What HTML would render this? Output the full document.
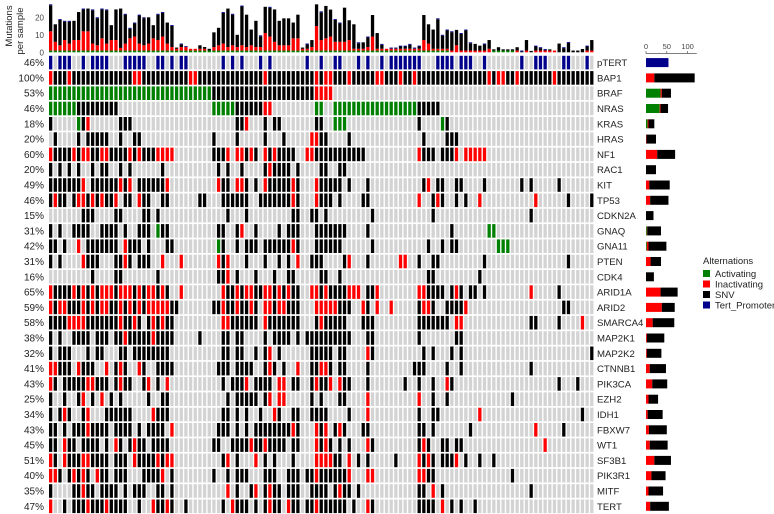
<!DOCTYPE html>
<html><head><meta charset="utf-8"><style>
html,body{margin:0;padding:0;background:#fff;width:774px;height:514px;overflow:hidden}
svg{display:block;font-family:"Liberation Sans",Arial,sans-serif}
</style></head><body>
<svg id="chart" width="774" height="514" viewBox="0 0 774 514" xmlns="http://www.w3.org/2000/svg">
<g>
<text transform="translate(12,26) rotate(-90)" font-size="9.5" text-anchor="middle" fill="#222">Mutations</text>
<text transform="translate(23,31) rotate(-90)" font-size="9.5" text-anchor="middle" fill="#222">per sample</text>
</g>
<g id="topAxis"></g>
<g id="topBars"></g>
<g id="grid"></g>
<g id="pcts"></g>
<g id="genes"></g>
<g id="rightAxis"></g>
<g id="rightBars"></g>
<g>
<text x="703" y="264" font-size="9.5" fill="#222">Alternations</text>
<g><rect x="703" y="270" width="7" height="7" fill="#008000"/><text x="715" y="277" font-size="9.5" fill="#222">Activating</text></g>
<g><rect x="703" y="280.5" width="7" height="7" fill="#ff0000"/><text x="715" y="287.5" font-size="9.5" fill="#222">Inactivating</text></g>
<g><rect x="703" y="291" width="7" height="7" fill="#000"/><text x="715" y="298" font-size="9.5" fill="#222">SNV</text></g>
<g><rect x="703" y="301.5" width="7" height="7" fill="#00008b"/><text x="715" y="308.5" font-size="9.5" fill="#222">Tert_Promoter</text></g>
</g>
</svg>
<script>
const genes = ["pTERT","BAP1","BRAF","NRAS","KRAS","HRAS","NF1","RAC1","KIT","TP53","CDKN2A","GNAQ","GNA11","PTEN","CDK4","ARID1A","ARID2","SMARCA4","MAP2K1","MAP2K2","CTNNB1","PIK3CA","EZH2","IDH1","FBXW7","WT1","SF3B1","PIK3R1","MITF","TERT"];
const pctLabels = ["46%","100%","53%","46%","18%","20%","60%","20%","49%","46%","15%","31%","42%","31%","16%","65%","59%","58%","38%","32%","41%","43%","25%","34%","43%","45%","51%","40%","35%","47%"];
const nSamples = 117;
const cellSpecs = [
"b0 b2-4 b7 b9-12 b16-20 b23-24 b26 b28-29 b37 b39 b41 b45 b47 b55 b58 b61-62 b66 b68 b71 b73-79 b83-86 b88-90 b93 b101 b104-106 b110-111 b115",
"k0-116 r0 r4 r18-19 r30-31 r46 r57 r59-60 r64 r70-71 r75 r78 r94 r96-97 r100 r108",
"g0-34 k35-56 r57-60",
"g0-5 k6-14 g35-39 k40-45 r46-47 g57-58 g61-78 k79-83",
"k0 g6 k7 r8 k15-17 k40-41 r42 k46 k48-49 k57-58 g61-63 k79 g84 k85",
"k1 k6 k8-12 k15 k18-19 k35 k40 k46 k50 r56 r57 k58-59 k64 k80 k85-87",
"r0 k1-4 r5 k6 r7-8 k9-10 r11-12 k13-16 r17 k18 r19 k20-22 r23-26 k35-37 r38 r40-41 k42 r43 k44 r46 k47 r48 k49-52 r55 r56 k57-67 r79 k80-82 k84-86 r87 r89-93",
"k0 k2 k4 k6 k9 k11-12 k15 k17 k24 k36 k38 k41 k46 r47 k48-51 k53 k58-59 k62-63",
"k0-6 r7 k9-14 r15 k16 r17 k19-24 r25 r36 k37-38 r40-41 k42 k44 r46 k47-51 r52 k53 r57 k58-62 k64 k68 k80 r81 k83-84 k87-88 k93 k101 k103 k109",
"k0 r1 k2-3 k5 r6-7 k8 r9 k10 r11 k12-13 r14 k16-17 r19 k20-21 k24-25 k32-33 k37-42 k45-51 r52 k53 r57 k58-60 k62 k67-68 r79 k82 r83 k84 k87 k89 r92 r104 k111 k116",
"k7-9 k14-15 k20-21 k23 k38 k42 k52-53 k56-57 k59 k69 k82 k103",
"k0 k2 k5-8 k11-14 k16 k19-21 g23 k24-25 k36-37 k40 r41 k44 k49 k51-53 k57-63 k68 k86 g94-95",
"k0-1 k3 r6 k8-14 r16 k17-19 k21 k25-26 g36 k37 k40 k42-44 k46-51 r52 k53 k57-62 k69 k81 k84 k86-87 g96-98",
"k0 k2 r7 k8-10 k14-15 r16 k17 k19-21 r24 r28 r36 k37 r38 k42 k46 k49 k51 r53 k56-58 k63 r64 k68 r75-76 k79 k82-83 k93 k111",
"k9 k14-15 k23 k36-37 r38 k40 k44 k48 k51-52 k58-59 k62 k81-82 k92",
"r0 k1-4 r5 k6 r7 k8 r9 k10 r11-13 k14 r15-17 k18 r19 k20 r21-22 k23 r24 k25 r28 r37 k38-39 r40 k41 r42-43 k44-45 r46-47 k48 r49 k50 r51 k52-53 r56-57 k58 r59 k60-63 r64-66 k68-69 r70 r79-80 k81-84 k86 r87 k88 k90-91 k93 r103 k109",
"r0 k1 r2-3 k4-6 r7 k8 r9 k10 r11-12 k13-14 r15 k16 r17 k18 r19 k20 r21-25 k26-27 k35-36 r37 k38-39 r40 k41-42 r43 k44 r46-47 k48 r49-50 k51-53 r57-61 k62-64 r67 k68 r70 r73 k79 r80-81 k82 k85-88 r89 k110-111",
"k0-3 r4-7 k8-14 r15 k16-17 r18 k19 k21 r22 k23 r24 k25-26 r37-38 k39-44 r46 k47-53 k57 r58 k59-63 k67-69 k79-85 r87-88 k103-104 k109 r114",
"k0 k2 k5-8 k10-12 k14-15 r16 k17-21 r22 k23-26 k32 k37-38 k40-41 k46 k48-51 k53 k55-64 k68-69 k79 k87-88",
"k0 k2-4 k8 k10-11 k15-16 k18-25 k37-38 k40-41 k44 k46 r47 k49 k56-60 k62-63 r68 k69 k80 k82 k86 k88 k116",
"r0-1 k2-4 r6 k7-9 r12 k14 r15 k16 r19 k20 k23-26 k36-38 k40-43 k46 r47 k48 k50 r53 k56-57 r58-59 k60 k62-63 k68 k78-80 k85 k88 k103",
"r0 k1 k3-7 r8-9 k10-12 k14 r15 k16-17 k20 r21 k23 r25 k37 k39-41 r42 k44-47 r49-50 k52-53 k56 r57 k58-59 r60 r62 k63-64 k68 k76 k79 k82 r85 k86 k109 k113",
"k0 k3 k6 r7 k9 r11 k13 k15 k21 k24-25 k38 k40-44 k46 r47 r49-50 k56 k58 k62-63 r68 r79 k82 k85 k99",
"k0 k2 r3 k4 k7 r8 k12-17 r22 k23-25 k37-38 k40 k42 k45 r48 k49 k52-53 k56-59 k64 r68 k79 k82-83 r92 k114",
"k0-1 k3 k5-7 r8 k9-12 k14-17 k19 k21-24 r26 k36-38 k40 k42 k44-51 r52 k53 r57 k58 r59 k61 r62 k63 k67-68 k79-80 k82 k90 r104 k110",
"k0-1 r3 k4-5 k7-10 k12 r14 k15 k17 r18 k19-20 k22-25 k35-36 k39-42 r43 k44-45 r46 k47-50 k52-53 r57 k58 r59 k60 k62 k64 r68 k69 k79 r80 k81 k84-85 k87-88 r106",
"r0 k1 r3 k4-6 r7-8 k9-12 k14-16 r18 k19-22 r23 k24 r25-26 k37 r38 k40 r44 k46 k48 k52 r57-60 k61-62 r64 k66 k68 k74 r79 k80 r81 k82 k84-86 r87 k89 k92 k95",
"r0-1 k2 k4 r5 k6 r7 k8 r10 k11-12 k14-16 k20-23 r24 k26 k35 k38 k40-42 k46-48 k51-53 k55-56 r57 k58-63 r64 r68-69 r79-80 k81-82 k99",
"k0 k5-6 r7 k8-9 k11-14 k16 k18-20 k23-24 k26 r38 k40 k43 r44 k46 r47 k48-49 k51-53 k56-59 k61 r62 k63-64 k66 k79-80 r82 k84 k103",
"r0 k3 k5-7 r8 k9-11 r12 k13-16 k19 r22 k23-24 r25 k26 k29 k37 r39 k40-42 k44 k46 r47 k48-49 r51 k52-53 k55-56 r57 k58-63 k65 r68 k69 k79-82 r84 k86 k88 k91"
];
const totalMut = [27.4,16,19,18,18,18,23,25,25,24.5,20,25,24.5,15.5,24.5,25,22,14,17,21.5,20,20,15.5,22,23,17,15.6,2.7,5,3.2,2,2,4,3,2,11.4,14,23,25,22,10,26.7,21.5,13,18,9.7,26,26,24.5,18,19.4,19.4,17,21.5,2.7,5,7,27.4,23.4,26.5,24.4,19,17,25.5,18.3,16,5.7,5.7,9,21.3,11,4.8,1.7,2.7,2.7,3.8,3.8,4.8,2.7,3.8,21.3,16,13,19.4,10,13,12,12.8,11,13,5.7,4.8,3.8,5,7,1.7,2.9,1.7,1.7,1.7,2.9,1,7,0.8,3.8,2.9,1.9,1.7,1,5,2.9,5.9,1,1,1.9,3.8,7];
const redMut = [11,5,3,6,4,6,6,11,11,4,3,7,4,6,6,1.5,4,7,8,4,3,4,7,6,8,4,2,1,2,2,1,1,1,1,0,2,3,4,2,3,2,3,2,3,2,2,10,8,5,3,3,3,7,7,1,1,2,14,6,7,8,5,5,5,6,1,1,1,2,8,1,1,1,1,1,1,1,1,1,1,6,4,1,1,1,1,1,4,1,1,1,1,1,1,2,0,0,0,0,0,1,0,1,0,1,1,1,1,1,0,0,0,0,0,0,1,1];
const greenMut = [1,1,1,1,1,1,1,1,1,1,1,1,1,1,1,1,1,1,1,1,1,1,1,1,1,1,1,1,1,1,1,1,1,1,1,1,1,1,1,1,1,1,1,1,1,1,1,1,1,1,1,1,1,1,1,1,1,1,1,1,1,1,1,1,1,1,1,1,1,1,1,1,1,1,1,1,1,1,1,1,1,1,1,1,1,1,0,0,0,0,0,0,0,0,0,1,1,1,1,1,0,0,0,0,0,0,0,0,0,0,0,0,0,0,0,0,0];
const countActivating = [0,0,35,33,4,0,0,0,0,0,0,2,2,0,0,0,0,0,0,0,0,0,0,0,0,0,0,0,0,0];
const countInactivating = [0,20,3,2,2,1,27,0,8,10,0,1,4,11,0,35,38,16,2,2,9,15,6,4,7,9,20,13,6,10];
const countSNV = [0,97,22,18,14,23,43,24,49,44,18,33,43,25,19,41,31,52,42,35,39,36,23,36,43,43,40,34,35,45];
const countTert = [54,0,0,0,0,0,0,0,0,0,0,0,0,0,0,0,0,0,0,0,0,0,0,0,0,0,0,0,0,0];
const countTicks = [0,50,100];
const topTicks = [0,10,20];

const NS='http://www.w3.org/2000/svg';
const COL={k:'#000000',r:'#ff0000',g:'#008000',b:'#00008b','.':'#d3d3d3'};
function mk(tag,attrs,parent){const e=document.createElementNS(NS,tag);for(const a in attrs)e.setAttribute(a,attrs[a]);parent.appendChild(e);return e;}
const gx0=49, pitch=4.665, cw=3.3;
const ry0=55.8, rp=15.3, rh=13.6;
function xCol(i){return gx0+i*pitch;}
function yRow(j){return ry0+j*rp;}
const topY0=52.3, topScale=1.75;
function yTop(v){return topY0-v*topScale;}
const rx0=646, rScale=0.416;
function xCount(v){return rx0+v*rScale;}
function parseSpec(s){const arr=new Array(nSamples).fill('.');s.split(/\s+/).filter(Boolean).forEach(t=>{const ty=t[0];const p=t.slice(1).split('-').map(Number);const a=p[0],b=p.length>1?p[1]:p[0];for(let i=a;i<=b;i++)arr[i]=ty;});return arr;}

const grid=document.getElementById('grid');
const pctG=document.getElementById('pcts');
const geneG=document.getElementById('genes');
const rows=cellSpecs.map(parseSpec);
rows.forEach((arr,j)=>{
  const y=yRow(j);
  for(let i=0;i<nSamples;i++){
    const c=mk('rect',{x:xCol(i).toFixed(2),y:y.toFixed(2),width:cw,height:rh,fill:COL[arr[i]]},grid);
    
    
  }
  const p=mk('text',{x:44,y:(y+rh/2+3.5).toFixed(2),'font-size':10,'text-anchor':'end',fill:'#222'},pctG);
  p.textContent=pctLabels[j];
  
  
  const g=mk('text',{x:597,y:(y+rh/2+3.5).toFixed(2),'font-size':9.6,fill:'#222'},geneG);
  g.textContent=genes[j];
  
  
});

const tb=document.getElementById('topBars');
for(let i=0;i<nSamples;i++){
  const x=xCol(i).toFixed(2);
  const hasT=rows[0][i]==='b';
  const blue=hasT?0.5:0;
  const green=greenMut[i], red=redMut[i];
  const black=Math.max(0,totalMut[i]-green-red-blue);
  let base=0;
  [[green,'#008000','green'],[red,'#ff0000','red'],[black,'#000000','black'],[blue,'#00008b','blue']].forEach(([v,col,nm])=>{
    if(v<=0)return;
    const r=mk('rect',{x:x,y:yTop(base+v).toFixed(2),width:cw,height:(v*topScale).toFixed(2),fill:col},tb);
    
    
    base+=v;
  });
}
const ta=document.getElementById('topAxis');
topTicks.forEach(v=>{
  const t=mk('text',{x:44,y:(yTop(v)+3).toFixed(2),'font-size':8,'text-anchor':'end',fill:'#444'},ta);
  t.textContent=v;
  
  
});

const ra=document.getElementById('rightAxis');
const axl=mk('line',{x1:rx0,x2:xCount(122),y1:53.5,y2:53.5,stroke:'#555','stroke-width':0.7},ra);


countTicks.forEach(v=>{
  const x=xCount(v);
  const tk=mk('line',{x1:x,x2:x,y1:51,y2:53.5,stroke:'#555','stroke-width':0.7},ra);
  
  
  const t=mk('text',{x:x,y:49,'font-size':7.5,'text-anchor':'middle',fill:'#444'},ra);
  t.textContent=v;
  
  
});
const rb=document.getElementById('rightBars');
genes.forEach((gname,j)=>{
  const y=yRow(j)+rh/2-4.5;
  let base=0;
  [[countActivating[j],'#008000','activating'],[countInactivating[j],'#ff0000','inactivating'],[countSNV[j],'#000000','snv'],[countTert[j],'#00008b','tert']].forEach(([v,col,nm])=>{
    if(v<=0)return;
    const r=mk('rect',{x:xCount(base).toFixed(2),y:y.toFixed(2),width:(v*rScale).toFixed(2),height:9,fill:col},rb);
    
    
    base+=v;
  });
});
</script>
</body></html>
